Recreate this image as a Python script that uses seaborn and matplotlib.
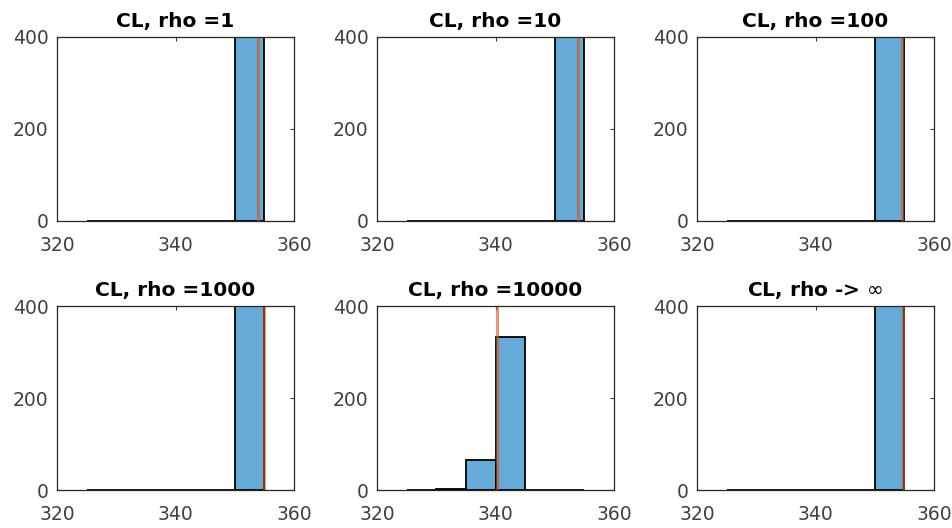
import numpy as np
import pandas as pd
import matplotlib
matplotlib.use("Agg")
import matplotlib.pyplot as plt
import seaborn as sns

# ---- data ----
titles = ["CL, rho =1", "CL, rho =10", "CL, rho =100",
          "CL, rho =1000", "CL, rho =10000", r"CL, rho -> $\infty$"]
bin_edges = [325, 330, 335, 340, 345, 350, 355]
counts_rho1 = [0, 0, 0, 0, 0, 400]
counts_rho10 = [0, 0, 0, 0, 0, 400]
counts_rho100 = [0, 0, 0, 0, 0, 400]
counts_rho1000 = [0, 0, 0, 0, 0, 400]
counts_rho10000 = [1, 2, 65, 333, 0, 0]
counts_rhoinf = [0, 0, 0, 0, 0, 400]
all_counts = [counts_rho1, counts_rho10, counts_rho100,
              counts_rho1000, counts_rho10000, counts_rhoinf]
ref_lines = [353.9, 353.9, 354.6, 355.0, 340.3, 354.8]
x_ticks = [320, 340, 360]
y_ticks = [0, 200, 400]

sns.set_theme(style="white")
plt.rcParams['font.family'] = ['DejaVu Sans']
plt.rcParams['mathtext.fontset'] = 'dejavusans'

W, H = 952, 528
fig = plt.figure(figsize=(W / 100, H / 100), dpi=100)

col_lefts = [57, 377, 697]
row_tops = [37, 306]
aw, ah = 237, 184
dark = "#404040"

centers = [(bin_edges[i] + bin_edges[i + 1]) / 2 for i in range(len(bin_edges) - 1)]

for k, (title, counts, rl) in enumerate(zip(titles, all_counts, ref_lines)):
    r, c = divmod(k, 3)
    left = col_lefts[c] / W
    bottom = 1 - (row_tops[r] + ah) / H
    ax = fig.add_axes([left, bottom, aw / W, ah / H])
    df = pd.DataFrame({"x": centers, "w": counts})
    sns.histplot(data=df, x="x", weights="w", bins=bin_edges, ax=ax,
                 color="#0072BD", alpha=0.6, edgecolor="black",
                 linewidth=1.3, stat="count")
    ax.axvline(rl, color="#D95319", alpha=0.6, linewidth=2.2)
    ax.set_xlim(320, 360)
    ax.set_ylim(0, 400)
    ax.set_xticks(x_ticks)
    ax.set_yticks(y_ticks)
    ax.set_xlabel("")
    ax.set_ylabel("")
    ax.tick_params(axis="both", which="both", direction="in", length=3,
                   width=0.8, colors=dark, labelsize=13.5, top=True, right=True,
                   labeltop=False, labelright=False)
    ax.tick_params(axis="x", pad=11)
    ax.tick_params(axis="y", pad=6)
    for lbl in ax.get_xticklabels() + ax.get_yticklabels():
        lbl.set_color(dark)
    for sp in ax.spines.values():
        sp.set_color("#262626")
        sp.set_linewidth(0.9)
        sp.set_visible(True)
    ax.set_title(title, fontsize=14.5, fontweight="bold", color="black", pad=7)
    ax.grid(False)

fig.savefig("out.png", dpi=100, facecolor="white")
